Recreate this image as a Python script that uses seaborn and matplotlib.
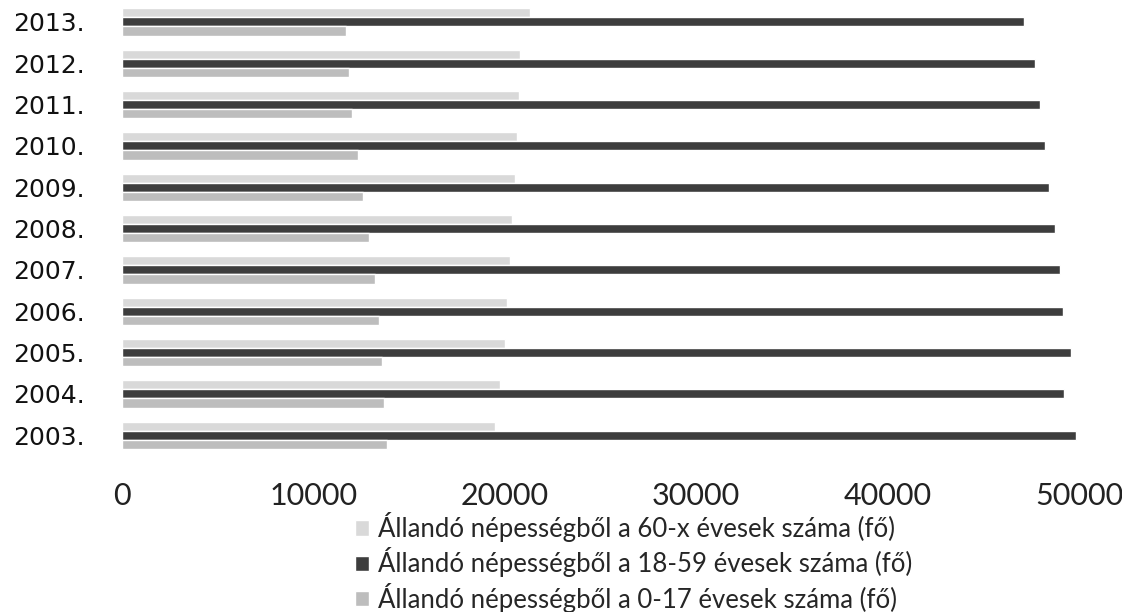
import matplotlib
matplotlib.use("Agg")
import matplotlib.pyplot as plt
import seaborn as sns
import pandas as pd

# values (persons)
years = ["2013.", "2012.", "2011.", "2010.", "2009.", "2008.",
         "2007.", "2006.", "2005.", "2004.", "2003."]
age_60x = [21300, 20820, 20730, 20660, 20520, 20400,
           20260, 20120, 20000, 19740, 19480]
age_18_59 = [47150, 47680, 47970, 48230, 48420, 48720,
             49020, 49150, 49560, 49240, 49850]
age_0_17 = [11680, 11870, 12030, 12310, 12600, 12910,
            13230, 13440, 13560, 13700, 13850]

series_names = [
    "Állandó népességből a 60-x évesek száma (fő)",
    "Állandó népességből a 18-59 évesek száma (fő)",
    "Állandó népességből a 0-17 évesek száma (fő)",
]
colors = ["#d9d9d9", "#3d3d3d", "#bdbdbd"]

df = pd.DataFrame({
    "year": years * 3,
    "value": age_60x + age_18_59 + age_0_17,
    "series": [series_names[0]] * len(years)
              + [series_names[1]] * len(years)
              + [series_names[2]] * len(years),
})

sns.set_theme(style="white")

fig = plt.figure(figsize=(11.22, 6.12), dpi=100)
ax = fig.add_axes([0.1087, 0.255, 0.8530, 0.743])

sns.barplot(data=df, x="value", y="year", hue="series", order=years,
            hue_order=series_names, palette=colors, orient="h",
            width=0.66, errorbar=None, ax=ax, saturation=1)

ax.set_xlim(0, 50000)
ax.set_xticks([0, 10000, 20000, 30000, 40000, 50000])
ax.set_xlabel("")
ax.set_ylabel("")
for s in ax.spines.values():
    s.set_visible(False)
ax.tick_params(axis="x", length=0, pad=19)
ax.tick_params(axis="y", length=0, pad=27)
for t in ax.get_xticklabels():
    t.set_fontfamily("Lato")
    t.set_fontsize(22)
    t.set_color("#222222")
for t in ax.get_yticklabels():
    t.set_fontfamily("DejaVu Sans")
    t.set_fontsize(18)
    t.set_color("#111111")

handles, labels = ax.get_legend_handles_labels()
ax.get_legend().remove()
fig.legend(handles, labels, loc="upper left", bbox_to_anchor=(0.316, 0.163),
           frameon=False, prop={"family": "Lato", "size": 18.5},
           handlelength=0.55, handleheight=0.55, handletextpad=0.35,
           labelspacing=0.2, borderaxespad=0, borderpad=0)

fig.savefig("out.png", dpi=100)
